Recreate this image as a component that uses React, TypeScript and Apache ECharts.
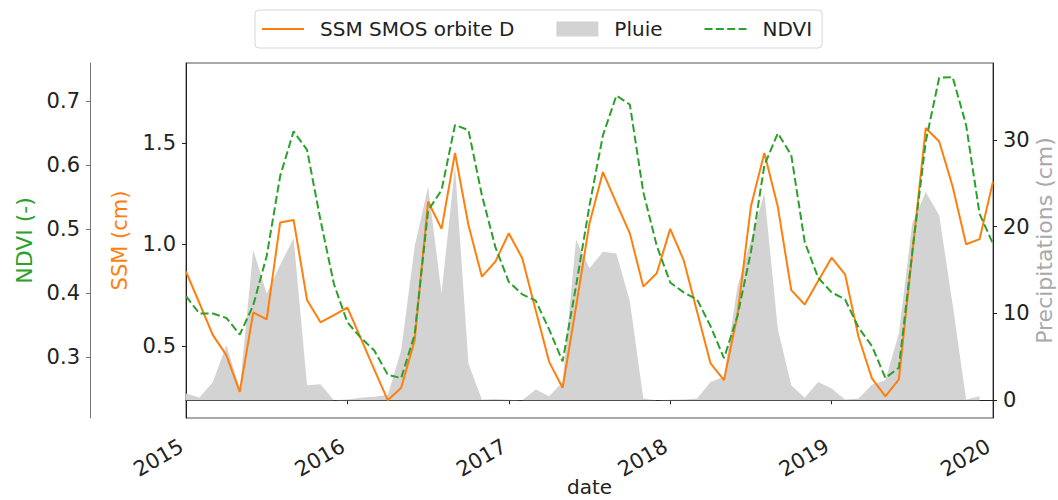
import React, { useEffect, useRef } from "react";
import * as echarts from "echarts";

// Monthly samples, January 2015 to January 2020, expressed as decimal years
const START_YEAR = 2015;
const END_YEAR = 2020;
const N_MONTHS = 61;
const MONTHS: number[] = Array.from({ length: N_MONTHS }, (_, i) => START_YEAR + i / 12);

// SSM SMOS orbite D (cm)
const SSM: number[] = [
  0.866, 0.71, 0.553, 0.454, 0.273, 0.665, 0.63, 1.108, 1.121, 0.726, 0.616, 0.652,
  0.688, 0.537, 0.383, 0.232, 0.293, 0.528, 1.212, 1.077, 1.451, 1.096, 0.841, 0.915,
  1.055, 0.932, 0.676, 0.421, 0.293, 0.693, 1.105, 1.357, 1.204, 1.055, 0.792, 0.858,
  1.077, 0.923, 0.668, 0.413, 0.331, 0.652, 1.187, 1.451, 1.187, 0.775, 0.704, 0.82,
  0.935, 0.853, 0.545, 0.339, 0.251, 0.334, 0.957, 1.574, 1.508, 1.286, 1.001, 1.026,
  1.31,
];

// NDVI (-)
const NDVI: number[] = [
  0.395, 0.368, 0.368, 0.361, 0.335, 0.381, 0.458, 0.583, 0.653, 0.624, 0.514, 0.414,
  0.354, 0.33, 0.31, 0.272, 0.267, 0.335, 0.529, 0.561, 0.663, 0.655, 0.553, 0.472,
  0.4175, 0.398, 0.388, 0.343, 0.293, 0.411, 0.537, 0.647, 0.709, 0.695, 0.558, 0.474,
  0.4165, 0.401, 0.39, 0.348, 0.298, 0.364, 0.464, 0.6, 0.65, 0.616, 0.48, 0.424,
  0.401, 0.39, 0.346, 0.317, 0.267, 0.283, 0.464, 0.637, 0.737, 0.738, 0.663, 0.524,
  0.477,
];

// Pluie / Precipitations (cm), January 2015 to December 2019
const PLUIE: number[] = [
  0.77, 0.31, 2.1, 6.35, 1.35, 17.3, 12.3, 15.6, 18.65, 1.73, 1.85, 0.0,
  0.1, 0.3, 0.4, 0.6, 5.77, 17.7, 24.6, 12.3, 27.0, 4.23, 0.05, 0.15,
  0.05, 0.0, 1.23, 0.46, 2.1, 18.5, 15.2, 17.1, 16.9, 11.4, 0.2, 0.0,
  0.05, 0.1, 0.2, 2.1, 2.7, 13.1, 18.5, 23.85, 8.2, 1.73, 0.3, 2.1,
  1.35, 0.08, 0.2, 1.8, 2.3, 7.7, 20.4, 24.0, 21.3, 11.0, 0.08, 0.46,
];

const SSM_TICKS = [0.5, 1.0, 1.5];
const NDVI_TICKS = [0.3, 0.4, 0.5, 0.6, 0.7];
const PLUIE_TICKS = [0, 10, 20, 30];

const ORANGE = "#ff7f0e";
const GREEN = "#2ca02c";
const GRAY = "#d3d3d3";
const TEXT = "#222222";
const FONT = "DejaVu Sans";

// legend handles: solid line and dashed line drawn as thin filled shapes
const SOLID_ICON = "path://M0,0H42V2H0Z";
const DASHED_ICON = "path://M0,0H8V2H0Z M11.3,0H19.3V2H11.3Z M22.7,0H30.7V2H22.7Z M34,0H42V2H34Z";

export default function App() {
  const ref = useRef<HTMLDivElement>(null);

  useEffect(() => {
    if (!ref.current) return;
    const chart = echarts.init(ref.current, undefined, { renderer: "svg" });

    const pair = (arr: number[]) => arr.map((v, i) => [MONTHS[i], v]);

    const tickLabel = {
      fontSize: 21,
      color: TEXT,
      fontFamily: FONT,
      margin: 10,
    };

    const option: any = {
      animation: false,
      textStyle: { fontFamily: FONT },
      legend: {
        left: 255,
        top: 10,
        orient: "horizontal",
        padding: [8, 10, 8, 7],
        itemWidth: 42,
        itemHeight: 15,
        itemGap: 42,
        backgroundColor: "#ffffff",
        borderColor: "#d6d6d6",
        borderWidth: 1,
        borderRadius: 4,
        textStyle: { fontSize: 20, color: TEXT, fontFamily: FONT, lineHeight: 22, padding: [0, 0, 0, 11] },
        data: [
          { name: "SSM SMOS orbite D", icon: SOLID_ICON, itemStyle: { color: ORANGE } },
          { name: "Pluie", icon: "rect", itemStyle: { color: GRAY } },
          { name: "NDVI", icon: DASHED_ICON, itemStyle: { color: GREEN } },
        ],
      },
      grid: {
        left: 186,
        right: 65,
        top: 63,
        bottom: 82,
        containLabel: false,
        outerBoundsMode: "none",
        show: true,
        borderColor: "#555",
        borderWidth: 1,
        backgroundColor: "transparent",
      },
      xAxis: {
        type: "value",
        min: START_YEAR,
        max: END_YEAR,
        interval: 1,
        name: "date",
        nameLocation: "middle",
        nameGap: 61,
        nameMoveOverlap: false,
        nameTextStyle: { fontSize: 20, lineHeight: 16, color: TEXT, fontFamily: FONT },
        axisLine: { show: true, lineStyle: { color: TEXT, width: 1 } },
        axisTick: { show: true, length: 4, lineStyle: { color: TEXT } },
        axisLabel: {
          ...tickLabel,
          rotate: 30,
          margin: 24,
          padding: [0, 5, 0, 0],
          showMinLabel: true,
          showMaxLabel: true,
          formatter: (v: number) => String(Math.round(v)),
        },
        splitLine: { show: false },
      },
      yAxis: [
        {
          type: "value",
          position: "left",
          offset: 0,
          min: 0.144,
          max: 1.895,
          name: "SSM (cm)",
          nameLocation: "middle",
          nameGap: 56,
          nameMoveOverlap: false,
          nameTextStyle: { fontSize: 21, color: ORANGE, fontFamily: FONT },
          axisLine: { show: true, lineStyle: { color: TEXT, width: 1 } },
          axisTick: { show: true, length: 4, customValues: SSM_TICKS, lineStyle: { color: TEXT } },
          axisLabel: { ...tickLabel, customValues: SSM_TICKS, formatter: (v: number) => v.toFixed(1) },
          splitLine: { show: false },
        },
        {
          type: "value",
          position: "left",
          offset: 96,
          min: 0.2044,
          max: 0.76,
          name: "NDVI (-)",
          nameLocation: "middle",
          nameGap: 55,
          nameMoveOverlap: false,
          nameTextStyle: { fontSize: 22, color: GREEN, fontFamily: FONT },
          axisLine: { show: true, lineStyle: { color: "#777", width: 1 } },
          axisTick: { show: true, length: 4, customValues: NDVI_TICKS, lineStyle: { color: "#777" } },
          axisLabel: { ...tickLabel, customValues: NDVI_TICKS, formatter: (v: number) => v.toFixed(1) },
          splitLine: { show: false },
        },
        {
          type: "value",
          position: "right",
          offset: 0,
          min: -2.04,
          max: 38.85,
          name: "Precipitations (cm)",
          nameLocation: "middle",
          nameGap: 41,
          nameMoveOverlap: false,
          nameTextStyle: { fontSize: 22, lineHeight: 20, color: "#a9a9a9", fontFamily: FONT },
          axisLine: { show: true, lineStyle: { color: TEXT, width: 1 } },
          axisTick: { show: true, length: 4, customValues: PLUIE_TICKS, lineStyle: { color: TEXT } },
          axisLabel: { ...tickLabel, customValues: PLUIE_TICKS, formatter: (v: number) => String(v) },
          splitLine: { show: false },
        },
      ],
      series: [
        {
          name: "Pluie",
          type: "line",
          yAxisIndex: 2,
          data: pair(PLUIE),
          symbol: "none",
          showSymbol: false,
          lineStyle: { width: 0, color: GRAY },
          itemStyle: { color: GRAY },
          areaStyle: { color: GRAY, opacity: 1 },
          z: 1,
        },
        {
          name: "SSM SMOS orbite D",
          type: "line",
          yAxisIndex: 0,
          data: pair(SSM),
          symbol: "none",
          showSymbol: false,
          lineStyle: { width: 2, color: ORANGE },
          itemStyle: { color: ORANGE },
          z: 2,
        },
        {
          name: "NDVI",
          type: "line",
          yAxisIndex: 1,
          data: pair(NDVI),
          symbol: "none",
          showSymbol: false,
          lineStyle: { width: 2, color: GREEN, type: [8, 3.5] },
          itemStyle: { color: GREEN },
          z: 3,
        },
      ],
    };

    chart.setOption(option);
    return () => chart.dispose();
  }, []);

  return (
    <div
      ref={ref}
      style={{ position: "fixed", left: 0, top: 0, width: 1058, height: 500, background: "#ffffff" }}
    />
  );
}
